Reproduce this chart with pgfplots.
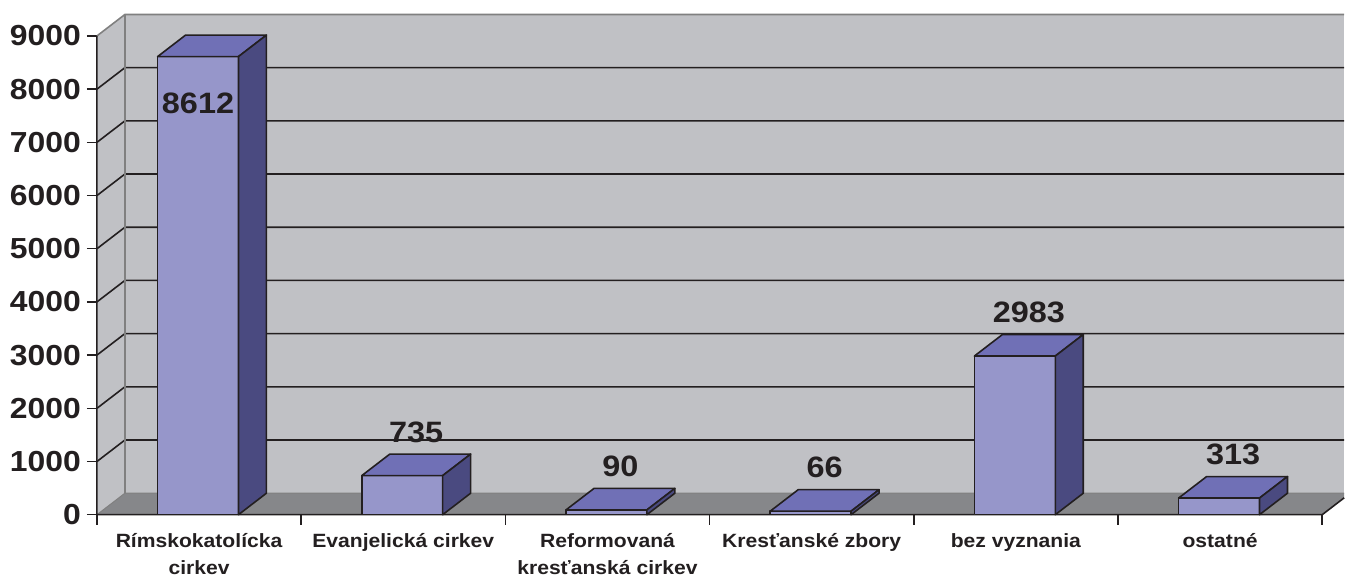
\documentclass[border=0pt]{standalone}
\usepackage{fontspec}
\setmainfont{Liberation Sans}[FakeStretch=1.1]
\usepackage{pgfplots}
\pgfplotsset{compat=1.18}

\definecolor{barfront}{RGB}{150,150,202}
\definecolor{bartop}{RGB}{112,112,182}
\definecolor{barside}{RGB}{74,74,128}
\definecolor{wall}{RGB}{192,193,197}
\definecolor{floorc}{RGB}{134,135,138}
\definecolor{edgec}{RGB}{128,128,128}
\definecolor{ink}{RGB}{35,31,32}

% depth offset of the 3D effect in data units (28pt, 21.5pt)
\newcommand{\dX}{0.137}
\newcommand{\dY}{404}
\newcommand{\hW}{0.198}

\newcommand{\threedbar}[2]{%
  \pgfmathsetmacro{\xl}{#1-\hW}%
  \pgfmathsetmacro{\xr}{#1+\hW}%
  \pgfmathsetmacro{\xlb}{#1-\hW+\dX}%
  \pgfmathsetmacro{\xrb}{#1+\hW+\dX}%
  \pgfmathsetmacro{\yt}{#2+\dY}%
  \addplot[fill=barfront, draw=ink, line width=1.6pt, line join=round]
    coordinates {(\xl,0) (\xr,0) (\xr,#2) (\xl,#2)} -- cycle;
  \addplot[fill=bartop, draw=ink, line width=1.6pt, line join=round]
    coordinates {(\xl,#2) (\xr,#2) (\xrb,\yt) (\xlb,\yt)} -- cycle;
  \addplot[fill=barside, draw=ink, line width=1.6pt, line join=round]
    coordinates {(\xr,0) (\xrb,\dY) (\xrb,\yt) (\xr,#2)} -- cycle;
}
\newcommand{\vlabel}[2]{%
  \node[font=\fontsize{29.5}{30}\selectfont\bfseries, text=ink, anchor=base, inner sep=0pt, xshift=14pt, yshift=33.5pt] at (axis cs:#1,#2) {#2};%
}

\begin{document}
\begin{tikzpicture}
\begin{axis}[
  width=1248pt, height=515pt, scale only axis,
  xmin=0, xmax=6.1077, ymin=0, ymax=9676,
  axis lines*=left, axis line style={draw=none},
  clip=false,
  xtick={0,1,2,3,4,5,6},
  x tick label as interval,
  xticklabels={{Rímskokatolícka\\cirkev},{Evanjelická cirkev},{Reformovaná\\kresťanská cirkev},{Kresťanské zbory},{bez vyznania},{ostatné}},
  ytick={0,1000,2000,3000,4000,5000,6000,7000,8000,9000},
  yticklabels={0,1000,2000,3000,4000,5000,6000,7000,8000,9000},
  tick align=outside,
  major tick length=10pt,
  tick style={draw=ink, line width=1.5pt},
  x tick label style={font=\fontsize{19.2}{27}\selectfont\bfseries, text=ink, align=center, anchor=north, inner sep=0pt, yshift=-9pt},
  y tick label style={font=\fontsize{29}{30}\selectfont\bfseries, text=ink, anchor=east, inner sep=0pt, xshift=-6pt},
]
% walls and floor
\addplot[fill=wall, draw=none] coordinates {(0.137,404) (6.1077,404) (6.1077,9404) (0.137,9404)} -- cycle;
\addplot[fill=wall, draw=none] coordinates {(0,0) (0.137,404) (0.137,9404) (0,9000)} -- cycle;
\addplot[fill=floorc, draw=none] coordinates {(0,0) (6,0) (6.1077,317.6) (6.1077,404) (0.137,404)} -- cycle;
% grid lines
\pgfplotsinvokeforeach{1000,2000,3000,4000,5000,6000,7000,8000}{
  \draw[ink, line width=1.6pt] (axis cs:0,#1) -- ++(28pt,21.5pt) -- ++(1220pt,0pt);
}
\draw[edgec, line width=1.6pt] (axis cs:0,9000) -- ++(28pt,21.5pt) -- ++(1220pt,0pt);
\draw[edgec, line width=1.6pt] (axis cs:0.137,404) -- (axis cs:0.137,9404);
\draw[edgec, line width=1pt] (axis cs:0,0) -- ++(28pt,21.5pt) -- ++(1220pt,0pt);
% front axis lines
\draw[ink, line width=1.6pt, line join=round] (axis cs:0,9000) -- (axis cs:0,0) -- (axis cs:6,0) -- ++(22pt,16.9pt);
% bars
\threedbar{0.495}{8612}
\threedbar{1.495}{735}
\threedbar{2.495}{90}
\threedbar{3.495}{66}
\threedbar{4.495}{2983}
\threedbar{5.495}{313}
% data labels
\node[font=\fontsize{29.5}{30}\selectfont\bfseries, text=ink] at (axis cs:0.495,7741) {8612};
\vlabel{1.495}{735}
\vlabel{2.495}{90}
\vlabel{3.495}{66}
\vlabel{4.495}{2983}
\vlabel{5.495}{313}
\end{axis}
\path (current axis.south west) ++(-97pt,-66pt);
\end{tikzpicture}
\end{document}
